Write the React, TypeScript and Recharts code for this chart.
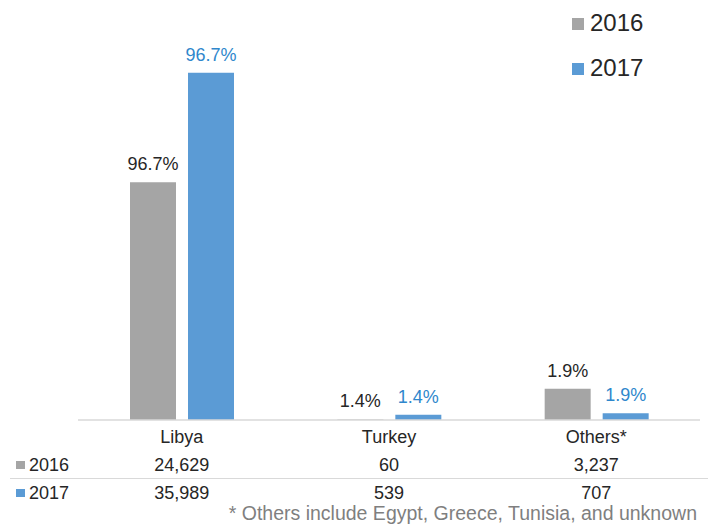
import React from "react";
import { BarChart, Bar, XAxis, YAxis, Legend, LabelList } from "recharts";

const categories = ["Libya", "Turkey", "Others*"];
const arrivals2016 = [24629, 60, 3237];
const arrivals2017 = [35989, 539, 707];
const share2016 = ["96.7%", "1.4%", "1.9%"];
const share2017 = ["96.7%", "1.4%", "1.9%"];
const seriesNames = ["2016", "2017"];
const footnote = "* Others include Egypt, Greece, Tunisia, and unknown";

const GRAY = "#a5a5a5";
const BLUE = "#5b9bd5";
const BLUE_TEXT = "#2f87cc";
const TEXT = "#262626";
const FONT = "'Liberation Sans', Arial, sans-serif";

const data = categories.map((name, i) => ({
  name,
  y2016: arrivals2016[i],
  y2017: arrivals2017[i],
  s2016: share2016[i],
  s2017: share2017[i],
}));

const fmt = (v: number) => v.toLocaleString("en-US");

// category name plus the two data-table values under each band
const TableTick = (props: any) => {
  const { x, y, index } = props;
  return (
    <g fontFamily={FONT} fontSize={18} fill={TEXT} textAnchor="middle">
      <text x={x} y={y + 23}>{categories[index]}</text>
      <text x={x} y={y + 51}>{fmt(arrivals2016[index])}</text>
      <text x={x} y={y + 79}>{fmt(arrivals2017[index])}</text>
    </g>
  );
};

const LegendBox = (props: any) => {
  const { payload = [] } = props;
  return (
    <div style={{ fontFamily: FONT, fontSize: 24, color: TEXT }}>
      {payload.map((p: any) => (
        <div key={p.value} style={{ display: "flex", alignItems: "center", height: 45 }}>
          <span style={{ width: 12, height: 12, background: p.color, marginRight: 6, marginTop: 2 }} />
          <span>{p.value}</span>
        </div>
      ))}
    </div>
  );
};

export default function App() {
  return (
    <div style={{ position: "relative", width: 708, height: 526, background: "#fff", overflow: "hidden" }}>
      <style>{"body{margin:0}"}</style>
      <BarChart
        width={708}
        height={526}
        data={data}
        margin={{ top: 34, right: 8, left: 78, bottom: 26 }}
        barSize={46}
        barGap={12}
      >
        <XAxis
          dataKey="name"
          height={80}
          axisLine={{ stroke: "#d9d9d9", strokeWidth: 1.5 }}
          tickLine={false}
          tickSize={0}
          tickMargin={0}
          tick={<TableTick />}
          interval={0}
        />
        <YAxis hide domain={[0, 40000]} />
        <Legend
          layout="vertical"
          align="center"
          verticalAlign="middle"
          wrapperStyle={{ top: 0, left: 572, width: 120 }}
          content={<LegendBox />}
        />
        <Bar dataKey="y2016" name={seriesNames[0]} fill={GRAY} isAnimationActive={false}>
          <LabelList dataKey="s2016" position="top" offset={12} fill={TEXT} fontSize={18} fontFamily={FONT} />
        </Bar>
        <Bar dataKey="y2017" name={seriesNames[1]} fill={BLUE} isAnimationActive={false}>
          <LabelList dataKey="s2017" position="top" offset={12} fill={BLUE_TEXT} fontSize={18} fontFamily={FONT} />
        </Bar>
      </BarChart>

      {/* row headers of the data table */}
      {seriesNames.map((s, i) => (
        <div
          key={s}
          style={{
            position: "absolute",
            left: 16,
            top: 454 + i * 28,
            height: 22,
            display: "flex",
            alignItems: "center",
            fontFamily: FONT,
            fontSize: 18,
            color: TEXT,
          }}
        >
          <span style={{ width: 9, height: 8, background: i === 0 ? GRAY : BLUE, marginRight: 4 }} />
          <span>{s}</span>
        </div>
      ))}
      <div style={{ position: "absolute", left: 10, right: 0, top: 478, height: 0, borderTop: "1.5px solid #d9d9d9" }} />
      <div
        style={{
          position: "absolute",
          right: 11,
          top: 502,
          lineHeight: "22px",
          fontFamily: FONT,
          fontSize: 19.5,
          color: "#7f7f7f",
          whiteSpace: "nowrap",
        }}
      >
        {footnote}
      </div>
    </div>
  );
}
